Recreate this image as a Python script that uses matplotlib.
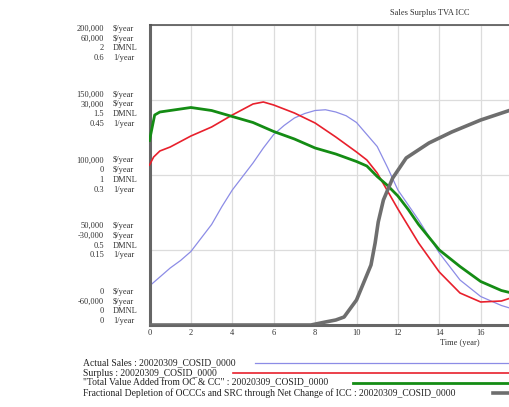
import matplotlib
matplotlib.use('Agg')
import matplotlib.pyplot as plt
from matplotlib.lines import Line2D

### Data ###

run_name = '20020309_COSID_0000'

# Actual Sales ($/year), axis 0 .. 200,000
t_sales = [0, 0.5, 1, 1.5, 2, 2.5, 3, 3.5, 4, 4.5, 5, 5.5, 6, 6.5, 7, 7.5, 8, 8.5, 9, 9.5,
           10, 10.5, 11, 11.5, 12, 12.5, 13, 14, 15, 16, 17, 17.6]
sales = [26000, 32000, 38000, 43000, 49000, 58000, 67000, 79000, 90000, 99000, 108000, 118000,
         127000, 133000, 138000, 141000, 143000, 143500, 142000, 139500, 135000, 127000, 119000,
         105000, 90000, 80000, 70000, 48000, 30000, 19000, 13000, 10500]

# Surplus ($/year), axis -60,000 .. 60,000
t_surplus = [0, 0.2, 0.5, 1, 2, 3, 4, 5, 5.5, 6, 7, 8, 9, 10, 10.5, 11, 11.5, 12, 13, 14, 15, 16, 17, 17.6]
surplus = [4000, 7200, 9600, 11200, 15600, 19200, 24000, 28400, 29200, 28000, 24800, 20800,
           15200, 9200, 6000, 800, -6400, -13600, -27200, -38800, -47200, -50800, -50400, -48800]

# Total Value Added from OC & CC (DMNL), axis 0 .. 2
t_tva = [0, 0.25, 0.5, 1, 2, 3, 4, 5, 6, 7, 8, 9, 10, 10.5, 11, 11.5, 12, 12.5, 13, 14, 15, 16, 17, 17.6]
tva = [1.23, 1.40, 1.42, 1.43, 1.45, 1.43, 1.39, 1.35, 1.29, 1.24, 1.18, 1.14, 1.09, 1.06,
       0.99, 0.93, 0.86, 0.77, 0.67, 0.50, 0.39, 0.29, 0.23, 0.21]

# Fractional Depletion ... of ICC (1/year), axis 0 .. 0.6
t_icc = [0, 7.8, 8.5, 9, 9.4, 10, 10.4, 10.7, 10.9, 11.05, 11.3, 11.75, 12.4, 13.5, 14.6, 16, 17.6]
icc = [0, 0, 0.006, 0.01, 0.016, 0.05, 0.09, 0.12, 0.164, 0.206, 0.25, 0.294, 0.334, 0.364,
       0.386, 0.41, 0.432]

x_ticks = [0, 2, 4, 6, 8, 10, 12, 14, 16]

# left axis labels, one group per gridline step (top to bottom)
sales_labels = ['200,000', '150,000', '100,000', '50,000', '0']
surplus_labels = ['60,000', '30,000', '0', '-30,000', '-60,000']
tva_labels = ['2', '1.5', '1', '0.5', '0']
icc_labels = ['0.6', '0.45', '0.3', '0.15', '0']
units = ['$/year', '$/year', 'DMNL', '1/year']

legend_names = ['Actual Sales', 'Surplus', '"Total Value Added from OC & CC"',
                'Fractional Depletion of OCCCs and SRC through Net Change of ICC']

c_sales = '#8c8ce6'
c_surplus = '#e8202c'
c_tva = '#148c14'
c_icc = '#6e6e6e'

serif = 'Liberation Serif'
W, H = 509, 407

fig = plt.figure(figsize=(W / 100, H / 100), dpi=100)
fig.patch.set_facecolor('white')

# plot frame in pixels: x 149.5 (t=0), 20.7 px per year; y 25 .. 325
left = 149.5 / W
bottom = (H - 325) / H
ax = fig.add_axes([left, bottom, 20 * 20.7 / W, 300 / H])
ax.set_xlim(0, 20)
ax.set_ylim(0, 200000)
ax.set_xticks([0, 2, 4, 6, 8, 10, 12, 14, 16, 18])
ax.set_xticklabels([str(v) if v in x_ticks else '' for v in [0, 2, 4, 6, 8, 10, 12, 14, 16, 18]],
                   fontfamily=serif, fontsize=6, color='#333333')
ax.set_yticks([0, 50000, 100000, 150000, 200000])
ax.set_yticklabels([])
ax.tick_params(length=0, pad=3)
ax.grid(True, color='#dcdcdc', linewidth=0.9)
ax.set_axisbelow(True)
for s in ['left', 'bottom']:
    ax.spines[s].set_color('#666666')
    ax.spines[s].set_linewidth(2.2)
ax.spines['top'].set_color('#555555')
ax.spines['top'].set_linewidth(1.2)
ax.spines['right'].set_visible(False)

ax.plot(t_sales, sales, color=c_sales, linewidth=0.9)

def twin(lo, hi):
    a = ax.twinx()
    a.set_ylim(lo, hi)
    a.set_yticks([])
    for s in a.spines.values():
        s.set_visible(False)
    return a

ax_s = twin(-60000, 60000)
ax_s.plot(t_surplus, surplus, color=c_surplus, linewidth=1.2)
ax_t = twin(0, 2)
ax_t.plot(t_tva, tva, color=c_tva, linewidth=2.0)
ax_i = twin(0, 0.6)
ax_i.plot(t_icc, icc, color=c_icc, linewidth=2.6)

# stacked Vensim style left labels
for g in range(5):
    y0 = 29 + g * 65.7
    vals = [sales_labels[g], surplus_labels[g], tva_labels[g], icc_labels[g]]
    for k in range(4):
        y = 1 - (y0 + k * 9.7) / H
        fig.text(104 / W, y, vals[k], ha='right', va='center', fontfamily=serif,
                 fontsize=6, color='#333333')
        fig.text(113 / W, y, units[k], ha='left', va='center', fontfamily=serif,
                 fontsize=6, color='#333333')

fig.text(430 / W, 1 - 13 / H, 'Sales Surplus TVA ICC', ha='center', va='center',
         fontfamily=serif, fontsize=6, color='#333333')
fig.text(460 / W, 1 - 343 / H, 'Time (year)', ha='center', va='center',
         fontfamily=serif, fontsize=6, color='#333333')

# legend under the plot
leg_colors = [c_sales, c_surplus, c_tva, c_icc]
leg_widths = [0.9, 1.2, 2.0, 2.6]
leg_start = [255, 233, 353, 493]
for k in range(4):
    y = 1 - (363 + k * 10) / H
    fig.text(83 / W, y, '{} : {}'.format(legend_names[k], run_name), ha='left', va='center',
             fontfamily=serif, fontsize=6.9, color='#222222')
    fig.add_artist(Line2D([leg_start[k] / W, 1.0], [y, y], color=leg_colors[k],
                          linewidth=leg_widths[k]))

fig.savefig('out.png', dpi=100)
